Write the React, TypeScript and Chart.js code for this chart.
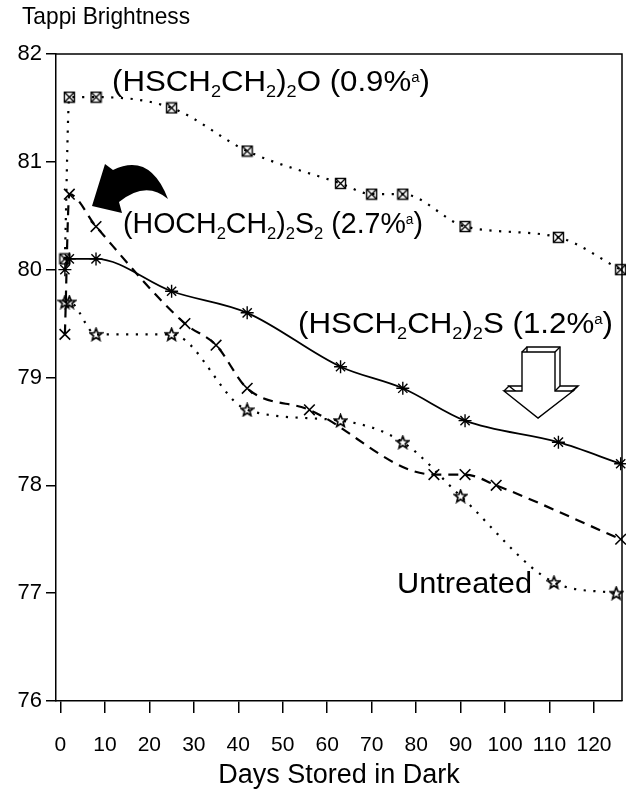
import React, { useEffect, useRef } from "react";
import { Chart, registerables } from "chart.js";

Chart.register(...registerables);

// ---- data ----
const dayTicks = [0, 10, 20, 30, 40, 50, 60, 70, 80, 90, 100, 110, 120];
const brightnessTicks = [76, 77, 78, 79, 80, 81, 82];

const oxyDays = [1, 2, 8, 25, 42, 63, 70, 77, 91, 112, 126];
const oxyValues = [80.1, 81.6, 81.6, 81.5, 81.1, 80.8, 80.7, 80.7, 80.4, 80.3, 80.0];

const sulfideDays = [1, 2, 8, 25, 42, 63, 77, 91, 112, 126];
const sulfideValues = [80.0, 80.1, 80.1, 79.8, 79.6, 79.1, 78.9, 78.6, 78.4, 78.2];

const disulfideDays = [1, 2, 8, 28, 35, 42, 56, 84, 91, 98, 126];
const disulfideValues = [79.4, 80.7, 80.4, 79.5, 79.3, 78.9, 78.7, 78.1, 78.1, 78.0, 77.5];

const untreatedDays = [1, 2, 8, 25, 42, 63, 77, 90, 111, 125];
const untreatedValues = [79.7, 79.7, 79.4, 79.4, 78.7, 78.6, 78.4, 77.9, 77.1, 77.0];

const yTitle = "Tappi Brightness";
const xTitle = "Days Stored in Dark";

type Seg = [string, "n" | "sub" | "sup"];
const oxyLabel: Seg[] = [["(HSCH", "n"], ["2", "sub"], ["CH", "n"], ["2", "sub"], [")", "n"], ["2", "sub"], ["O (0.9%", "n"], ["a", "sup"], [")", "n"]];
const disulfideLabel: Seg[] = [["(HOCH", "n"], ["2", "sub"], ["CH", "n"], ["2", "sub"], [")", "n"], ["2", "sub"], ["S", "n"], ["2", "sub"], [" (2.7%", "n"], ["a", "sup"], [")", "n"]];
const sulfideLabel: Seg[] = [["(HSCH", "n"], ["2", "sub"], ["CH", "n"], ["2", "sub"], [")", "n"], ["2", "sub"], ["S (1.2%", "n"], ["a", "sup"], [")", "n"]];
const untreatedLabel: Seg[] = [["Untreated", "n"]];

const FONT = '"Liberation Sans", Arial, Helvetica, sans-serif';

function pts(xs: number[], ys: number[]) {
  return xs.map((x, i) => ({ x, y: ys[i] }));
}

function makeSquareX(): HTMLCanvasElement {
  const c = document.createElement("canvas");
  c.width = 13;
  c.height = 13;
  const g = c.getContext("2d")!;
  g.strokeStyle = "#000";
  g.lineWidth = 1.4;
  g.strokeRect(1.5, 1.5, 10, 10);
  g.beginPath();
  g.moveTo(1.5, 1.5);
  g.lineTo(11.5, 11.5);
  g.moveTo(11.5, 1.5);
  g.lineTo(1.5, 11.5);
  g.stroke();
  return c;
}

function makeStar(): HTMLCanvasElement {
  const c = document.createElement("canvas");
  c.width = 15;
  c.height = 15;
  const g = c.getContext("2d")!;
  g.strokeStyle = "#000";
  g.lineWidth = 1.7;
  g.lineJoin = "miter";
  g.beginPath();
  const cx = 7.5, cy = 8, R = 6.4, r = 2.8;
  for (let i = 0; i < 10; i++) {
    const a = -Math.PI / 2 + (i * Math.PI) / 5;
    const rad = i % 2 === 0 ? R : r;
    const px = cx + rad * Math.cos(a);
    const py = cy + rad * Math.sin(a);
    if (i === 0) g.moveTo(px, py);
    else g.lineTo(px, py);
  }
  g.closePath();
  g.stroke();
  return c;
}

function drawRich(ctx: CanvasRenderingContext2D, segs: Seg[], x: number, baseline: number, targetW: number, size: number) {
  const fontFor = (k: string) => {
    const s = k === "n" ? size : k === "sub" ? size * 0.58 : size * 0.48;
    return `${s}px ${FONT}`;
  };
  let w = 0;
  for (const [t, k] of segs) {
    ctx.font = fontFor(k);
    w += ctx.measureText(t).width;
  }
  const sx = targetW / w;
  ctx.save();
  ctx.translate(x, baseline);
  ctx.scale(sx, 1);
  ctx.fillStyle = "#000";
  ctx.textBaseline = "alphabetic";
  ctx.textAlign = "left";
  let cx = 0;
  for (const [t, k] of segs) {
    ctx.font = fontFor(k);
    const dy = k === "sub" ? size * 0.2 : k === "sup" ? -size * 0.3 : 0;
    ctx.fillText(t, cx, dy);
    cx += ctx.measureText(t).width;
  }
  ctx.restore();
}

const annotationPlugin = {
  id: "annotations",
  afterDraw(chart: any) {
    const ctx: CanvasRenderingContext2D = chart.ctx;
    const a = chart.chartArea;
    ctx.save();
    // frame
    ctx.strokeStyle = "#000";
    ctx.lineWidth = 1.5;
    ctx.beginPath();
    ctx.moveTo(a.left, a.top);
    ctx.lineTo(a.right, a.top);
    ctx.lineTo(a.right, a.bottom);
    ctx.stroke();

    // y title
    drawRich(ctx, [[yTitle, "n"]], 22, 24, 168, 24);

    // labels
    drawRich(ctx, oxyLabel, 112, 91, 318, 29);
    drawRich(ctx, disulfideLabel, 123, 233, 300, 29);
    drawRich(ctx, sulfideLabel, 298, 333, 315, 29);
    drawRich(ctx, untreatedLabel, 397, 593, 135, 29);

    // black curved arrow
    ctx.fillStyle = "#000";
    ctx.beginPath();
    ctx.moveTo(168, 199);
    ctx.quadraticCurveTo(150, 152, 113, 170);
    ctx.lineTo(105, 164);
    ctx.lineTo(92, 206);
    ctx.lineTo(122, 213);
    ctx.lineTo(119, 202);
    ctx.quadraticCurveTo(146, 180, 168, 199);
    ctx.closePath();
    ctx.fill();

    // hollow 3D arrow
    const front = [
      [522, 352], [555, 352], [555, 391], [573, 391], [538, 418], [504, 391], [522, 391],
    ];
    const dx = 5, dy = -5;
    ctx.lineWidth = 1.4;
    ctx.strokeStyle = "#000";
    ctx.fillStyle = "#fff";
    ctx.beginPath();
    front.forEach(([px, py], i) => (i === 0 ? ctx.moveTo(px + dx, py + dy) : ctx.lineTo(px + dx, py + dy)));
    ctx.closePath();
    ctx.fill();
    ctx.stroke();
    ctx.beginPath();
    front.forEach(([px, py]) => {
      ctx.moveTo(px, py);
      ctx.lineTo(px + dx, py + dy);
    });
    ctx.stroke();
    ctx.beginPath();
    front.forEach(([px, py], i) => (i === 0 ? ctx.moveTo(px, py) : ctx.lineTo(px, py)));
    ctx.closePath();
    ctx.fill();
    ctx.stroke();
    ctx.restore();
  },
};

export default function App() {
  const ref = useRef<HTMLCanvasElement | null>(null);

  useEffect(() => {
    if (!ref.current) return;
    const squareX = makeSquareX();
    const star5 = makeStar();
    const common = {
      borderColor: "#000",
      backgroundColor: "#000",
      pointBorderColor: "#000",
      pointBackgroundColor: "transparent",
      cubicInterpolationMode: "monotone" as const,
      clip: false as any,
    };
    const chart = new Chart(ref.current, {
      type: "line",
      data: {
        datasets: [
          {
            ...common,
            label: "(HSCH2CH2)2O",
            data: pts(oxyDays, oxyValues),
            borderWidth: 2.2,
            borderDash: [2.2, 7.5],
            pointStyle: squareX as any,
            pointRadius: 6,
          },
          {
            ...common,
            label: "(HSCH2CH2)2S",
            data: pts(sulfideDays, sulfideValues),
            borderWidth: 1.8,
            pointStyle: "star",
            pointRadius: 6.5,
            pointBorderWidth: 1.4,
          },
          {
            ...common,
            label: "(HOCH2CH2)2S2",
            data: pts(disulfideDays, disulfideValues),
            borderWidth: 2.2,
            borderDash: [10, 7],
            pointStyle: "crossRot",
            pointRadius: 7.5,
            pointBorderWidth: 1.6,
          },
          {
            ...common,
            label: "Untreated",
            data: pts(untreatedDays, untreatedValues),
            borderWidth: 2.2,
            borderDash: [2.2, 7.5],
            pointStyle: star5 as any,
            pointRadius: 6,
          },
        ],
      },
      options: {
        responsive: false,
        animation: false,
        events: [],
        layout: { autoPadding: false, padding: { left: 0, top: 54, right: 4, bottom: 0 } },
        plugins: {
          legend: { display: false },
          tooltip: { enabled: false },
          title: { display: false },
        },
        scales: {
          x: {
            type: "linear",
            min: -1,
            max: 126.3,
            afterBuildTicks: (s: any) => {
              s.ticks = dayTicks.map((v) => ({ value: v }));
            },
            afterFit: (s: any) => {
              s.height = 95;
              s.paddingLeft = 0;
              s.paddingRight = 0;
            },
            grid: {
              display: true,
              drawOnChartArea: false,
              drawTicks: true,
              tickLength: 12,
              color: "#000",
              lineWidth: 1.5,
            },
            border: { display: true, color: "#000", width: 1.5 },
            ticks: {
              color: "#000",
              font: { family: FONT, size: 21 },
              padding: 20,
              maxRotation: 0,
              autoSkip: false,
              callback: (v: any) => String(v),
            },
            title: {
              display: true,
              text: xTitle,
              color: "#000",
              font: { family: FONT, size: 27 },
              padding: { top: 0, bottom: 4 },
            },
          },
          y: {
            type: "linear",
            min: 76,
            max: 82,
            afterBuildTicks: (s: any) => {
              s.ticks = brightnessTicks.map((v) => ({ value: v }));
            },
            afterFit: (s: any) => {
              s.width = 56;
              s.paddingTop = 0;
              s.paddingBottom = 0;
            },
            grid: {
              display: true,
              drawOnChartArea: false,
              drawTicks: true,
              tickLength: 10,
              color: "#000",
              lineWidth: 1.5,
            },
            border: { display: true, color: "#000", width: 1.5 },
            ticks: {
              color: "#000",
              font: { family: FONT, size: 22 },
              padding: 4,
              callback: (v: any) => String(v),
            },
          },
        },
      },
      plugins: [annotationPlugin],
    });
    return () => chart.destroy();
  }, []);

  return (
    <div style={{ position: "absolute", left: 0, top: 0, width: 626, height: 796, background: "#fff" }}>
      <canvas ref={ref} width={626} height={796} style={{ display: "block" }} />
    </div>
  );
}
